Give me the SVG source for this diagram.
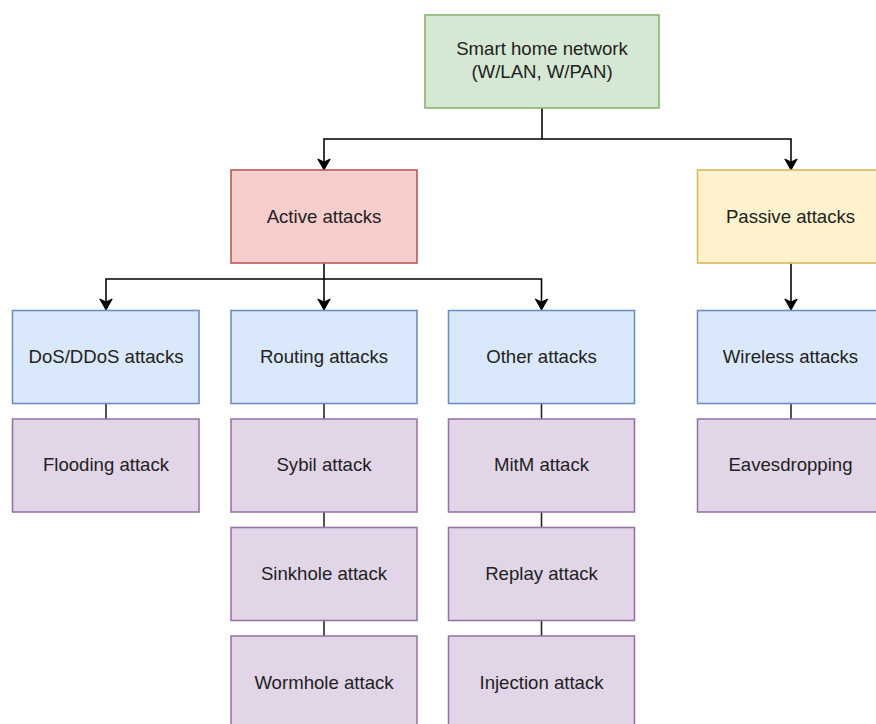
<svg xmlns="http://www.w3.org/2000/svg" width="876" height="724" viewBox="0 0 876 724">
<style>
rect{stroke-width:1.55}
.g{fill:#d5e8d4;stroke:#82b366}
.r{fill:#f8cecc;stroke:#b85450}
.y{fill:#fff2cc;stroke:#d6b656}
.b{fill:#dae8fc;stroke:#6c8ebf}
.p{fill:#e1d5e7;stroke:#9673a6}
text{font-family:"Liberation Sans",Arial,Helvetica,sans-serif;font-size:18.6px;fill:#222;text-anchor:middle}
.c path{fill:none;stroke:#000;stroke-width:1.55}
.c .s{stroke:#222}
</style>
<defs>
<marker id="ar" markerUnits="userSpaceOnUse" viewBox="-8 -7 13 14" refX="0" refY="0" markerWidth="13" markerHeight="14" orient="auto" overflow="visible">
<path d="M-7,-6.2 L4,0 L-7,6.2 L-4,0 Z" fill="#000" stroke="#000" stroke-width="1"/>
</marker>
</defs>
<g class="c" id="connectors">
<path d="M542 108 V139 H324 V166" marker-end="url(#ar)"/>
<path d="M542 139 H791 V166" marker-end="url(#ar)"/>
<path d="M324 263.5 V279 H106 V306" marker-end="url(#ar)"/>
<path d="M324 279 V306" marker-end="url(#ar)"/>
<path d="M324 279 H541.5 V306" marker-end="url(#ar)"/>
<path d="M791 263.5 V306" marker-end="url(#ar)"/>
<path class="s" d="M106 403.5 V419"/>
<path class="s" d="M324 403.5 V419 M324 512 V527.5 M324 620.5 V636"/>
<path class="s" d="M541.5 403.5 V419 M541.5 512 V527.5 M541.5 620.5 V636"/>
<path class="s" d="M791 403.5 V419"/>
</g>
<g id="smart-home"><rect class="g" x="425" y="15" width="234" height="93"/><text x="542" y="55">Smart home network</text><text x="542" y="78">(W/LAN, W/PAN)</text></g>
<g id="active"><rect class="r" x="231" y="170" width="186" height="93"/><text x="324" y="222.5">Active attacks</text></g>
<g id="passive"><rect class="y" x="697.5" y="170" width="186" height="93"/><text x="790.5" y="222.5">Passive attacks</text></g>
<g id="dos"><rect class="b" x="12.5" y="310.5" width="186.5" height="93"/><text x="106" y="362.5">DoS/DDoS attacks</text></g>
<g id="routing"><rect class="b" x="231" y="310.5" width="186" height="93"/><text x="324" y="362.5">Routing attacks</text></g>
<g id="other"><rect class="b" x="448.5" y="310.5" width="186" height="93"/><text x="541.5" y="362.5">Other attacks</text></g>
<g id="wireless"><rect class="b" x="697.5" y="310.5" width="186" height="93"/><text x="790.5" y="362.5">Wireless attacks</text></g>
<g id="flooding"><rect class="p" x="12.5" y="419" width="186.5" height="93"/><text x="106" y="471">Flooding attack</text></g>
<g id="sybil"><rect class="p" x="231" y="419" width="186" height="93"/><text x="324" y="471">Sybil attack</text></g>
<g id="mitm"><rect class="p" x="448.5" y="419" width="186" height="93"/><text x="541.5" y="471">MitM attack</text></g>
<g id="eavesdropping"><rect class="p" x="697.5" y="419" width="186" height="93"/><text x="790.5" y="471">Eavesdropping</text></g>
<g id="sinkhole"><rect class="p" x="231" y="527.5" width="186" height="93"/><text x="324" y="580">Sinkhole attack</text></g>
<g id="replay"><rect class="p" x="448.5" y="527.5" width="186" height="93"/><text x="541.5" y="580">Replay attack</text></g>
<g id="wormhole"><rect class="p" x="231" y="636" width="186" height="93"/><text x="324" y="689">Wormhole attack</text></g>
<g id="injection"><rect class="p" x="448.5" y="636" width="186" height="93"/><text x="541.5" y="689">Injection attack</text></g>
</svg>
